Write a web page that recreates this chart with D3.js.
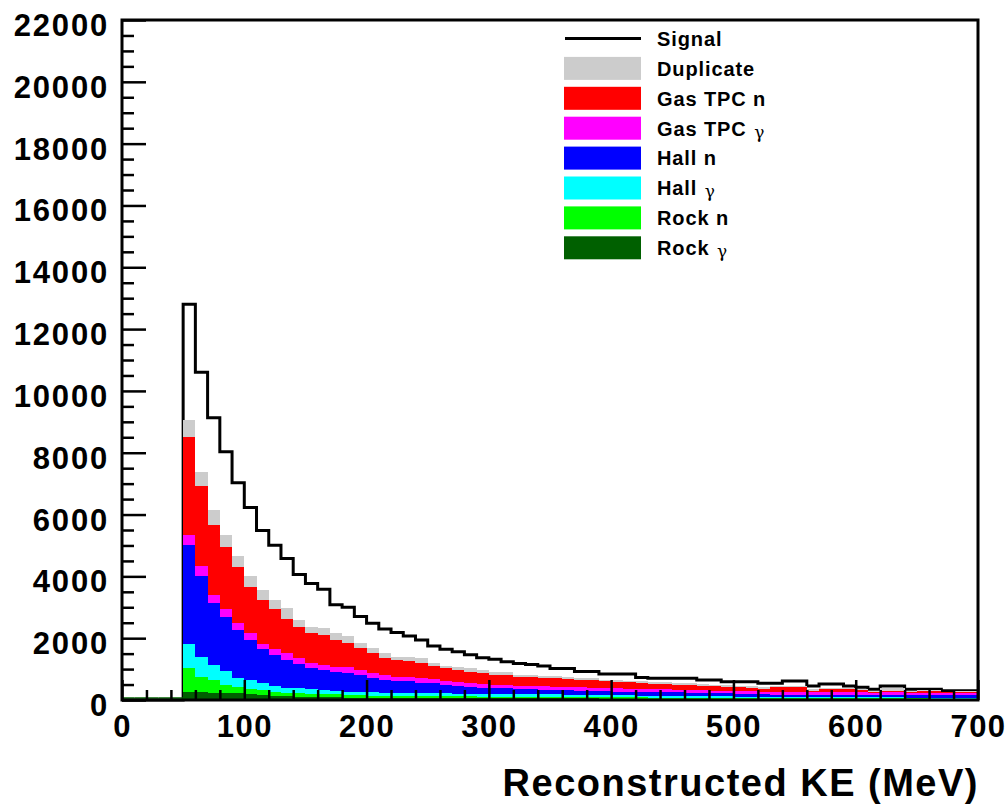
<!DOCTYPE html>
<html><head><meta charset="utf-8">
<script src="https://cdn.jsdelivr.net/npm/d3@7"></script>
<style>html,body{margin:0;padding:0;background:#fff;} svg{display:block;font-family:"Liberation Sans",Arial,Helvetica,sans-serif;}</style>
</head><body><svg id="c" width="1008" height="804"></svg>
<script>
// ---- DATA ----
// lower edge of each 10 MeV bin (MeV)
const binLow = [
  0,10,20,30,40,50,60,70,80,90,
  100,110,120,130,140,150,160,170,180,190,
  200,210,220,230,240,250,260,270,280,290,
  300,310,320,330,340,350,360,370,380,390,
  400,410,420,430,440,450,460,470,480,490,
  500,510,520,530,540,550,560,570,580,590,
  600,610,620,630,640,650,660,670,680,690];
const rockGamma = [
  0,0,0,0,0,270,260,240,216,216,
  194,160,130,120,110,100,95,90,80,75,
  70,70,65,65,60,60,60,55,55,55,
  55,55,55,50,50,50,50,50,50,45,
  45,45,45,40,40,40,40,40,35,35,
  35,35,35,35,35,35,30,30,30,30,
  30,30,30,30,30,30,25,25,25,25];
const rockN = [
  0,0,0,0,0,754,495,407,269,194,
  156,153,140,120,106,100,95,90,80,75,
  75,70,70,65,65,60,60,60,60,55,
  55,55,55,55,55,50,50,45,45,45,
  45,40,40,40,40,40,35,35,35,35,
  35,30,25,25,25,25,25,25,25,25,
  25,20,20,20,20,20,20,20,20,20];
const hallGamma = [
  0,0,0,0,0,776,647,485,445,310,
  297,247,170,160,161,145,130,120,110,110,
  105,100,100,100,100,100,95,95,90,90,
  90,85,85,85,80,80,75,75,70,70,
  65,65,60,60,60,55,55,50,50,45,
  40,45,40,40,40,35,40,40,35,35,
  35,35,35,35,30,30,35,30,30,30];
const hallN = [
  0,0,0,0,0,3214,2610,1995,1766,1550,
  1294,1079,1020,910,793,679,651,600,614,549,
  451,407,390,380,336,319,270,243,226,199,
  177,182,150,150,145,140,135,130,125,120,
  120,120,115,115,110,110,110,105,100,100,
  95,90,80,75,75,75,70,70,70,70,
  70,75,75,70,75,75,70,75,75,75];
const gasGamma = [
  0,0,0,0,0,324,323,270,238,210,
  216,181,179,200,178,184,161,178,173,162,
  162,162,130,135,140,130,140,140,130,119,
  108,108,108,110,110,110,110,110,110,110,
  105,100,100,95,95,90,90,85,85,85,
  85,85,80,90,90,90,85,90,95,90,
  85,70,90,95,75,85,90,70,80,80];
const gasN = [
  0,0,0,0,0,3181,2588,2265,2006,1812,
  1510,1400,1301,1110,1002,949,971,872,776,701,
  647,539,539,525,485,431,399,378,356,345,
  324,324,302,290,280,270,270,250,240,210,
  210,200,180,180,175,165,160,150,135,125,
  120,115,95,150,150,155,52,90,90,95,
  79,20,52,52,20,62,62,30,40,40];
const duplicate = [
  0,0,0,0,0,539,464,485,398,377,
  345,339,295,346,250,215,215,230,238,161,
  162,162,108,120,162,86,76,107,107,108,
  108,108,54,60,70,70,60,60,60,60,
  60,50,60,50,50,50,50,50,50,50,
  50,50,55,40,50,50,38,55,55,35,
  26,30,75,75,40,18,18,20,10,10];
const signal = [
  0,0,0,0,0,12800,10600,9130,8030,7030,
  6230,5480,5010,4580,4060,3770,3580,3080,3000,2700,
  2480,2300,2180,2070,1940,1750,1640,1560,1460,1370,
  1320,1240,1180,1150,1100,1020,1020,920,920,840,
  840,840,730,700,700,700,700,650,650,590,
  590,590,540,540,615,615,450,520,520,450,
  410,345,450,450,345,345,345,300,300,300];
const xTickLabels = ["0","100","200","300","400","500","600","700"];
const yTickLabels = ["0","2000","4000","6000","8000","10000","12000","14000","16000","18000","20000","22000"];
const legendLabels = ["Signal","Duplicate","Gas TPC n","Gas TPC γ","Hall n","Hall γ","Rock n","Rock γ"];
const xTitle = "Reconstructed KE (MeV)";

// ---- STYLE ----
const keys = ["rockGamma","rockN","hallGamma","hallN","gasGamma","gasN","duplicate"];
const colors = {rockGamma:"#006000", rockN:"#00ff00", hallGamma:"#00ffff", hallN:"#0000ff",
                gasGamma:"#ff00ff", gasN:"#ff0000", duplicate:"#cccccc"};
const legendKeys = ["signal","duplicate","gasN","gasGamma","hallN","hallGamma","rockN","rockGamma"];
const binWidth = 10;
const xMax = 700, yMax = 22000;

const svg = d3.select("#c");
const x = d3.scaleLinear().domain([0, xMax]).range([122, 978]);
const y = d3.scaleLinear().domain([0, yMax]).range([700, 20]);

const series = {rockGamma, rockN, hallGamma, hallN, gasGamma, gasN, duplicate};
const rows = binLow.map((b, i) => {
  const r = {bin: b, signal: signal[i]};
  keys.forEach(k => r[k] = series[k][i]);
  r.total = keys.reduce((s, k) => s + r[k], 0);
  return r;
});
const stacked = d3.stack().keys(keys)(rows);

// signal line (drawn first; the stack covers its lower part)
const pts = rows.map(r => [x(r.bin), y(r.signal)]);
pts.push([x(xMax), y(rows[rows.length - 1].signal)]);
svg.append("path")
  .attr("d", d3.line().curve(d3.curveStepAfter)(pts))
  .attr("fill", "none").attr("stroke", "#000").attr("stroke-width", 3);

// stacked bars
svg.append("g").selectAll("g").data(stacked).join("g")
  .attr("fill", d => colors[d.key])
  .selectAll("rect").data(d => d.filter(s => s[1] > s[0])).join("rect")
  .attr("shape-rendering", "crispEdges")
  .attr("x", d => x(d.data.bin))
  .attr("width", d => x(d.data.bin + binWidth) - x(d.data.bin))
  .attr("y", d => y(d[1]))
  .attr("height", d => y(d[0]) - y(d[1]));

// empty bins: histogram outline drawn at zero level
svg.append("g").selectAll("line").data(rows.filter(r => r.total === 0)).join("line")
  .attr("x1", r => x(r.bin)).attr("x2", r => x(r.bin + binWidth))
  .attr("y1", y(0) - 2).attr("y2", y(0) - 2)
  .attr("stroke", colors.rockGamma).attr("stroke-width", 1.5);

// frame
svg.append("rect").attr("x", x(0)).attr("y", y(yMax))
  .attr("width", x(xMax) - x(0)).attr("height", y(0) - y(yMax))
  .attr("fill", "none").attr("stroke", "#000").attr("stroke-width", 3);

// axes
const yVals = yTickLabels.map(Number);
const xVals = xTickLabels.map(Number);
function styleAxis(g) {
  g.select(".domain").remove();
  g.attr("font-family", null).attr("font-size", null);
  g.selectAll(".tick line").attr("stroke", "#000").attr("stroke-width", 2.5);
}
const yMinor = d3.range(0, yMax + 1, 500).filter(v => !yVals.includes(v));
svg.append("g").attr("transform", `translate(${x(0)},0)`)
  .call(d3.axisLeft(y).tickValues(yMinor).tickSize(-12).tickFormat(""))
  .call(styleAxis);
const gy = svg.append("g").attr("transform", `translate(${x(0)},0)`)
  .call(d3.axisLeft(y).tickValues(yVals).tickSize(-24).tickPadding(13)
        .tickFormat((d, i) => yTickLabels[i]))
  .call(styleAxis);
gy.selectAll(".tick text").attr("dy", "0.5em").attr("font-size", 31)
  .attr("font-weight", "bold").attr("letter-spacing", 1.8).attr("fill", "#000");

const xMinor = d3.range(0, xMax + 1, 20).filter(v => !xVals.includes(v));
svg.append("g").attr("transform", `translate(0,${y(0)})`)
  .call(d3.axisBottom(x).tickValues(xMinor).tickSize(-10).tickFormat(""))
  .call(styleAxis);
const gx = svg.append("g").attr("transform", `translate(0,${y(0)})`)
  .call(d3.axisBottom(x).tickValues(xVals).tickSize(-20).tickPadding(15)
        .tickFormat((d, i) => xTickLabels[i]))
  .call(styleAxis);
gx.selectAll(".tick text").attr("font-size", 31).attr("font-weight", "bold")
  .attr("letter-spacing", 1.5).attr("fill", "#000");

// axis title
svg.append("text").attr("x", x(xMax) + 1).attr("y", 796).attr("text-anchor", "end")
  .attr("font-size", 38).attr("font-weight", "bold").attr("letter-spacing", 1.5)
  .text(xTitle);

// legend
const lg = svg.append("g");
legendLabels.forEach((lab, i) => {
  const cy = 38.5 + i * 29.9;
  const key = legendKeys[i];
  if (key === "signal") {
    lg.append("line").attr("x1", 565).attr("x2", 641).attr("y1", cy).attr("y2", cy)
      .attr("stroke", "#000").attr("stroke-width", 3);
  } else {
    lg.append("rect").attr("x", 564).attr("y", cy - 11.5).attr("width", 77).attr("height", 23)
      .attr("fill", colors[key]);
  }
  const t = lg.append("text").attr("x", 657).attr("y", cy + 7.3)
    .attr("font-size", 20).attr("font-weight", "bold").attr("letter-spacing", 0.9);
  const parts = lab.split("γ");
  t.append("tspan").text(parts[0]);
  if (parts.length > 1) {
    t.append("tspan").attr("font-weight", "normal").attr("font-family", "'DejaVu Serif', serif")
      .attr("font-size", 17).attr("dx", 1).attr("dy", 2).text("γ");
  }
});
</script></body></html>
